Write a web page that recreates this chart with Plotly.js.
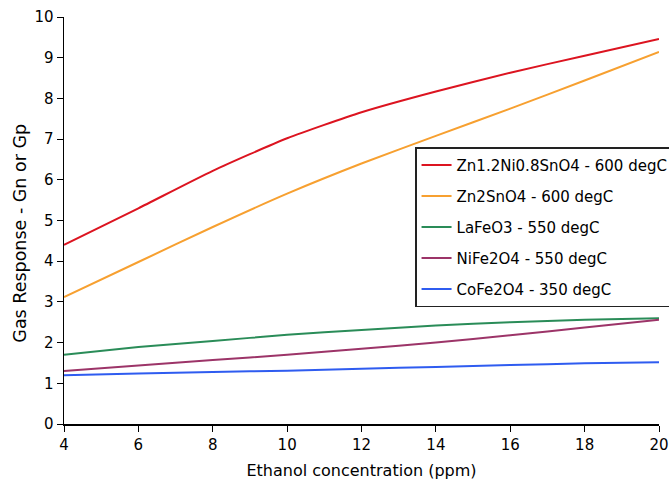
<!DOCTYPE html>
<html><head><meta charset="utf-8">
<script src="https://cdn.plot.ly/plotly-3.0.1.min.js"></script>
<style>html,body{margin:0;padding:0;background:#fff}#chart{width:669px;height:485px}</style>
</head><body><div id="chart"></div>
<script>
const concentration = [4, 6, 8, 10, 12, 14, 16, 18, 20];
const seriesNames = ["Zn1.2Ni0.8SnO4 - 600 degC", "Zn2SnO4 - 600 degC", "LaFeO3 - 550 degC", "NiFe2O4 - 550 degC", "CoFe2O4 - 350 degC"];
const znNiSnO4 = [4.40, 5.30, 6.22, 7.02, 7.66, 8.17, 8.63, 9.05, 9.46];
const zn2SnO4 = [3.12, 3.98, 4.84, 5.66, 6.40, 7.08, 7.75, 8.44, 9.14];
const laFeO3 = [1.70, 1.89, 2.04, 2.19, 2.31, 2.42, 2.50, 2.56, 2.60];
const niFe2O4 = [1.30, 1.44, 1.57, 1.70, 1.85, 2.00, 2.18, 2.37, 2.56];
const coFe2O4 = [1.20, 1.24, 1.28, 1.31, 1.36, 1.40, 1.45, 1.49, 1.52];
const colors = ["#dc1420", "#f7a030", "#2a8c58", "#9c3468", "#2f5cf0"];
const allSeries = [znNiSnO4, zn2SnO4, laFeO3, niFe2O4, coFe2O4];

const font = "DejaVu Sans, Verdana, sans-serif";
const traces = allSeries.map((ys, i) => ({
  x: concentration, y: ys, name: seriesNames[i], type: "scatter", mode: "lines",
  line: {color: colors[i], width: 2, shape: "spline", smoothing: 0.6},
  legendgroup: "g" + i
}));

const layout = {
  width: 669, height: 485,
  margin: {l: 64, r: 10, t: 17, b: 61, autoexpand: false},
  paper_bgcolor: "#fff", plot_bgcolor: "#fff",
  font: {family: font, color: "#000"},
  showlegend: true,
  legend: {
    x: 0.59, y: 0.68, xanchor: "left", yanchor: "top",
    bgcolor: "#fff", bordercolor: "#222", borderwidth: 1.5,
    font: {family: font, size: 15, color: "#000"},
    tracegroupgap: 8.5, traceorder: "grouped"
  },
  xaxis: {
    range: [4, 20], dtick: 2, tick0: 4, automargin: false,
    ticklabeloverflow: "allow",
    showline: true, linecolor: "#000", linewidth: 1.5,
    ticks: "outside", ticklen: 6, tickcolor: "#000",
    showgrid: false, zeroline: false,
    tickfont: {family: font, size: 15},
    title: {text: "Ethanol concentration (ppm)", font: {family: font, size: 16}, standoff: 12}
  },
  yaxis: {
    range: [0, 10], dtick: 1, automargin: false,
    ticklabeloverflow: "allow",
    showline: true, linecolor: "#000", linewidth: 1.5,
    ticks: "outside", ticklen: 6, tickcolor: "#000",
    showgrid: false, zeroline: false,
    tickfont: {family: font, size: 15}
  },
  annotations: [{
    text: "Gas Response - Gn or Gp", textangle: -90,
    xref: "paper", yref: "paper", x: -0.074, y: 0.47,
    xanchor: "center", yanchor: "middle", showarrow: false,
    font: {family: font, size: 17.5, color: "#000"}
  }]
};
Plotly.newPlot("chart", traces, layout, {displayModeBar: false, staticPlot: true});
</script></body></html>
